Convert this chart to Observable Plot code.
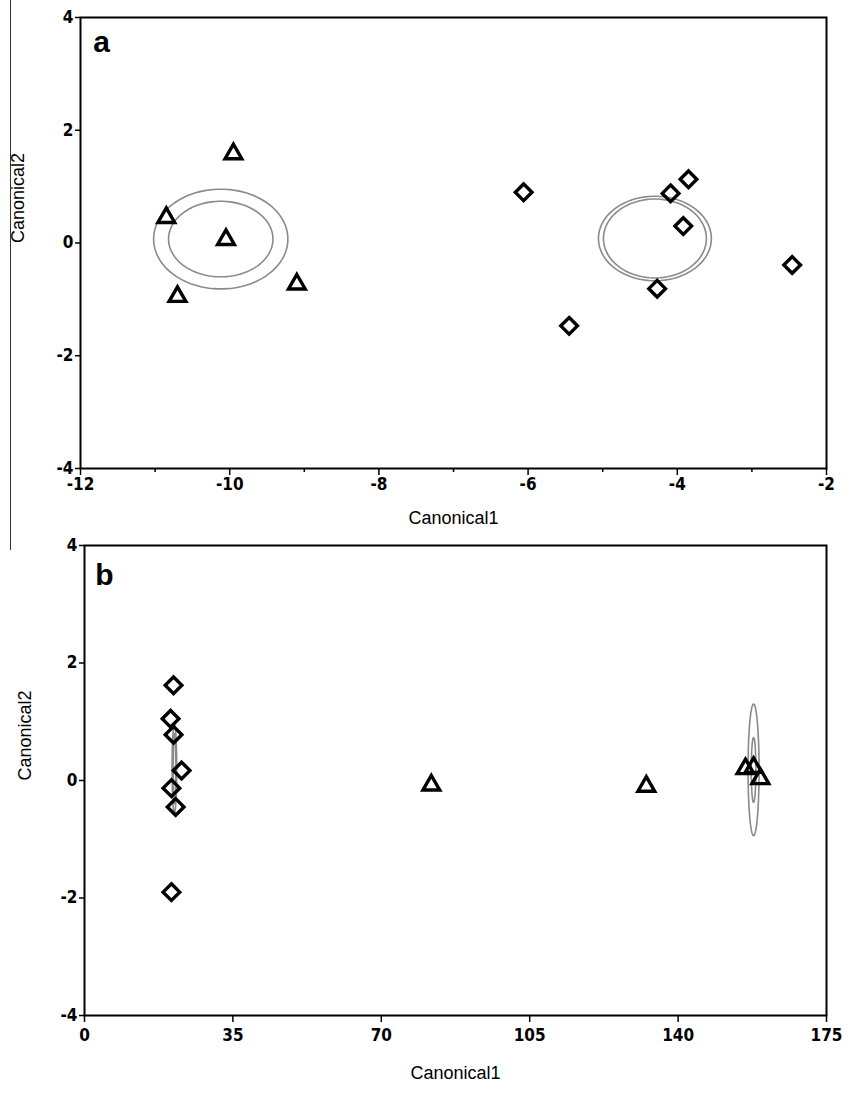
<!DOCTYPE html>
<html><head><meta charset="utf-8">
<script src="https://cdn.jsdelivr.net/npm/d3@7"></script>
<script src="https://cdn.jsdelivr.net/npm/@observablehq/plot@0.6"></script>
<style>
body{margin:0;background:#fff;width:853px;height:1095px;position:relative;overflow:hidden}
#rule{position:absolute;left:10px;top:0;width:0;height:550px;border-left:1.5px solid #333}
svg{display:block}
</style></head><body>
<div id="rule"></div>
<div id="a"></div><div id="b"></div>
<script>
// Panel a data
const aTriX = [-9.95, -10.85, -10.05, -10.7, -9.1];
const aTriY = [1.58, 0.45, 0.06, -0.95, -0.73];
const aDiaX = [-6.06, -4.09, -3.85, -3.92, -4.27, -5.45, -2.46];
const aDiaY = [0.90, 0.88, 1.13, 0.30, -0.81, -1.47, -0.39];
const aEllCx = [-10.12, -10.12, -4.30, -4.30];
const aEllCy = [0.07, 0.07, 0.08, 0.08];
const aEllRx = [0.90, 0.70, 0.757, 0.69];
const aEllRy = [0.885, 0.67, 0.75, 0.70];
const aXTicks = [-12, -10, -8, -6, -4, -2];
const aXMinor = [-11, -9, -7, -5, -3];
// Panel b data
const bDiaX = [21.0, 20.3, 21.0, 22.9, 20.5, 21.5, 20.5];
const bDiaY = [1.62, 1.05, 0.78, 0.17, -0.13, -0.45, -1.9];
const bTriX = [81.8, 132.5, 155.9, 157.8, 159.4];
const bTriY = [-0.08, -0.1, 0.2, 0.22, 0.03];
const bEllCx = [21.2, 21.2, 157.8, 157.8];
const bEllCy = [0.2, 0.2, 0.18, 0.18];
const bEllRx = [0.55, 0.3, 1.3, 0.55];
const bEllRy = [0.75, 0.6, 1.12, 0.55];
const bXTicks = [0, 35, 70, 105, 140, 175];
const yTicks = [-4, -2, 0, 2, 4];

function pts(xs, ys) { return xs.map((x, i) => ({x, y: ys[i]})); }
function ellipses(cx, cy, rx, ry) {
  const out = [];
  cx.forEach((c, i) => {
    d3.range(0, 361, 4).forEach(a => {
      const t = a * Math.PI / 180;
      out.push({id: i, x: c + rx[i] * Math.cos(t), y: cy[i] + ry[i] * Math.sin(t)});
    });
  });
  return out;
}
const font = "'Liberation Sans', Arial, sans-serif";
const tickFont = "'DejaVu Sans Condensed', 'Liberation Sans Narrow', 'Liberation Sans', Arial, sans-serif";
const style = {fontFamily: font, fontSize: "15px", color: "#000", background: "#fff", overflow: "visible"};
const fmt = d => String(d);

function panel({height, mt, mb, ml, xDomain, xTicks, xMinor, ell, tri, dia, letter, letterDx, letterDy, ylabDx, xlabDy, tickPad}) {
  const marks = [
    Plot.line(ell, {x: "x", y: "y", z: "id", stroke: "#8a8a8a", strokeWidth: 1.6}),
    Plot.dot(tri, {x: "x", y: "y", symbol: "triangle2", r: 8, stroke: "#000", strokeWidth: 3.4, fill: "none"}),
    Plot.dot(dia, {x: "x", y: "y", symbol: "diamond2", r: 7.5, stroke: "#000", strokeWidth: 3.4, fill: "none"}),
    Plot.axisY({ticks: yTicks, tickSize: 5, tickPadding: 2, tickFormat: fmt, label: null, strokeWidth: 1.5, fontSize: 17, fontWeight: "bold", fontFamily: tickFont}),
    Plot.axisX({ticks: xTicks, tickSize: 7, tickPadding: tickPad, tickFormat: fmt, label: null, strokeWidth: 1.5, fontSize: 17, fontWeight: "bold", fontFamily: tickFont}),
    Plot.frame({stroke: "#000", strokeWidth: 2}),
    Plot.text([letter], {frameAnchor: "top-left", text: d => d, dx: letterDx, dy: letterDy, textAnchor: "middle", lineAnchor: "middle", fontSize: 30, fontWeight: "bold", fontFamily: font}),
    Plot.text(["Canonical2"], {frameAnchor: "left", text: d => d, rotate: -90, dx: ylabDx, fontSize: 18, fontFamily: font}),
    Plot.text(["Canonical1"], {frameAnchor: "bottom", text: d => d, dy: xlabDy, fontSize: 18, fontFamily: font})
  ];
  if (xMinor) marks.push(Plot.axisX({ticks: xMinor, tickSize: 4, tickFormat: () => "", label: null, strokeWidth: 1.5}));
  return Plot.plot({
    width: 853, height, marginTop: mt, marginBottom: mb, marginLeft: ml, marginRight: 27,
    x: {domain: xDomain},
    y: {domain: [-4, 4]},
    style,
    marks
  });
}

document.getElementById("a").append(panel({
  height: 535, mt: 17, mb: 67, ml: 80, xDomain: [-12, -2], xTicks: aXTicks, xMinor: aXMinor,
  ell: ellipses(aEllCx, aEllCy, aEllRx, aEllRy), tri: pts(aTriX, aTriY), dia: pts(aDiaX, aDiaY),
  letter: "a", letterDx: 21, letterDy: 25, ylabDx: -62, xlabDy: 55, tickPad: 2
}));
document.getElementById("b").append(panel({
  height: 560, mt: 10, mb: 80, ml: 84, xDomain: [0, 175], xTicks: bXTicks, xMinor: null,
  ell: ellipses(bEllCx, bEllCy, bEllRx, bEllRy), tri: pts(bTriX, bTriY), dia: pts(bDiaX, bDiaY),
  letter: "b", letterDx: 20, letterDy: 30, ylabDx: -59, xlabDy: 63, tickPad: 6
}));
</script>
</body></html>
